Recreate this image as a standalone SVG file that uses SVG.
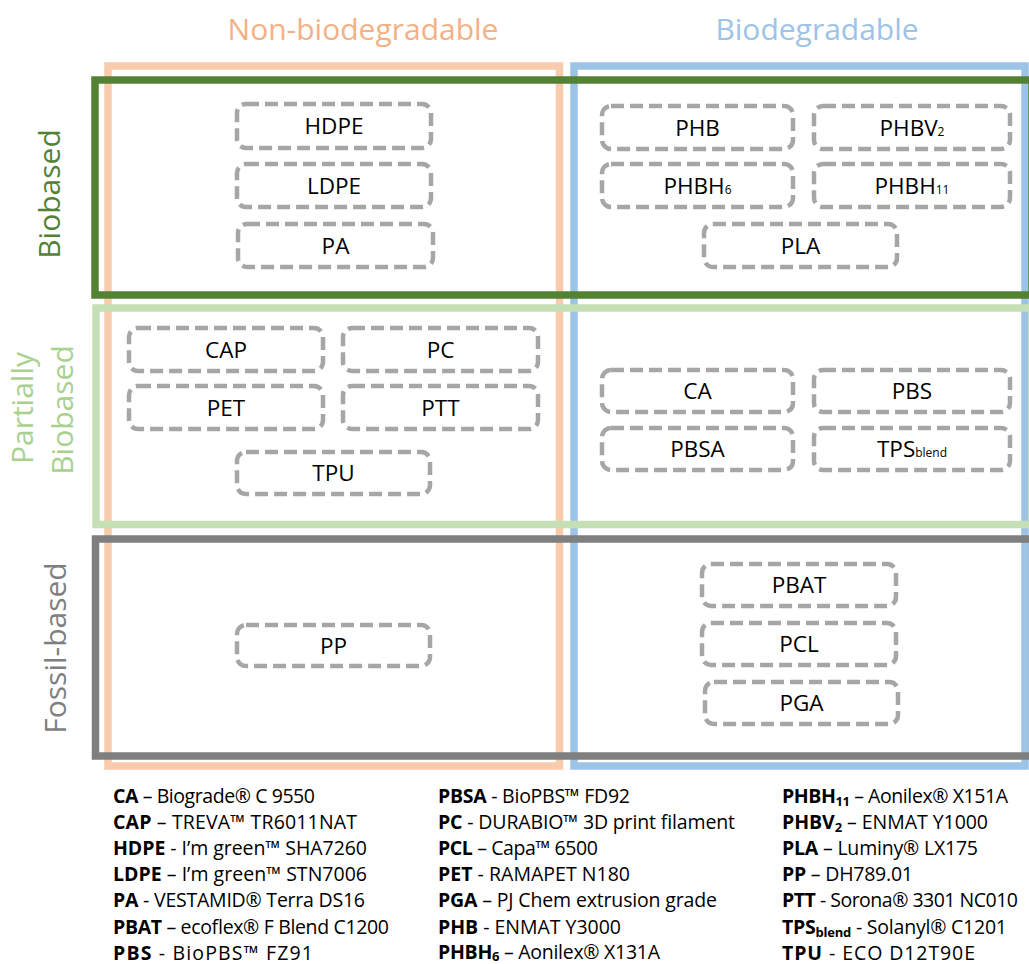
<svg xmlns="http://www.w3.org/2000/svg" width="1029" height="964" viewBox="0 0 1029 964">
<style>
.hdr{font-family:"Open Sans","Liberation Sans",sans-serif;font-size:30px;text-anchor:middle}
.side{font-family:"Open Sans","Liberation Sans",sans-serif;font-size:30px;text-anchor:middle}
.box{fill:#FFFFFF;stroke:#A6A6A6;stroke-width:4.5;stroke-dasharray:13 6}
.lbl{font-family:"Open Sans","Liberation Sans",sans-serif;font-size:22.5px;fill:#000;text-anchor:middle}
.sub{font-size:12px}
.leg{font-family:"Open Sans","Liberation Sans",sans-serif;font-size:19.5px;fill:#000}
.leg .b{font-weight:bold}
.leg .bs{font-weight:bold;font-size:13px}
.frame{fill:none;stroke-width:7.5}
</style>
<rect width="1029" height="964" fill="#FFFFFF"/>
<g id="headers">
<text class="hdr" x="363" y="40" fill="#F4B183">Non-biodegradable</text>
<text class="hdr" x="817" y="40" fill="#9DC3E6">Biodegradable</text>
</g>
<g id="side-labels">
<text class="side" transform="translate(60,194) rotate(-90)" fill="#548235">Biobased</text>
<text class="side" transform="translate(33,408) rotate(-90)" fill="#A9D18E">Partially</text>
<text class="side" transform="translate(73,410) rotate(-90)" fill="#A9D18E">Biobased</text>
<text class="side" transform="translate(66,648) rotate(-90)" fill="#7F7F7F">Fossil-based</text>
</g>
<g id="frames">
<rect id="non-biodegradable" class="frame" x="108" y="66" width="451.5" height="700" stroke="#F8CBAD"/>
<rect id="biodegradable" class="frame" x="574" y="66" width="451" height="700" stroke="#9DC3E6"/>
<rect id="partially-biobased" class="frame" x="96" y="308" width="936" height="216.5" stroke="#C5E0B4"/>
<rect id="fossil-based" class="frame" x="95.5" y="539" width="937" height="217" stroke="#7F7F7F"/>
<rect id="biobased" class="frame" x="95" y="80" width="937" height="215" stroke="#548235"/>
</g>
<g id="connectors"/>
<g id="node-HDPE"><rect class="box" x="237" y="104" width="194" height="44" rx="9"/><text class="lbl" x="334" y="134">HDPE</text></g>
<g id="node-LDPE"><rect class="box" x="237" y="164" width="194" height="43" rx="9"/><text class="lbl" x="334" y="193.5">LDPE</text></g>
<g id="node-PA"><rect class="box" x="238" y="224" width="195" height="43" rx="9"/><text class="lbl" x="335.5" y="253.5">PA</text></g>
<g id="node-PHB"><rect class="box" x="602" y="106" width="191" height="43" rx="9"/><text class="lbl" x="697.5" y="135.5">PHB</text></g>
<g id="node-PHBV2"><rect class="box" x="814" y="106" width="196" height="43" rx="9"/><text class="lbl" x="912" y="135.5">PHBV<tspan class="sub">2</tspan></text></g>
<g id="node-PHBH6"><rect class="box" x="602" y="164" width="191" height="43" rx="9"/><text class="lbl" x="697.5" y="193.5">PHBH<tspan class="sub">6</tspan></text></g>
<g id="node-PHBH11"><rect class="box" x="814" y="164" width="196" height="43" rx="9"/><text class="lbl" x="912" y="193.5">PHBH<tspan class="sub">11</tspan></text></g>
<g id="node-PLA"><rect class="box" x="704" y="224" width="193" height="43" rx="9"/><text class="lbl" x="800.5" y="253.5">PLA</text></g>
<g id="node-CAP"><rect class="box" x="129" y="328" width="194" height="43" rx="9"/><text class="lbl" x="226" y="357.5">CAP</text></g>
<g id="node-PC"><rect class="box" x="343" y="328" width="195" height="43" rx="9"/><text class="lbl" x="440.5" y="357.5">PC</text></g>
<g id="node-PET"><rect class="box" x="129" y="386" width="194" height="43" rx="9"/><text class="lbl" x="226" y="415.5">PET</text></g>
<g id="node-PTT"><rect class="box" x="343" y="386" width="195" height="43" rx="9"/><text class="lbl" x="440.5" y="415.5">PTT</text></g>
<g id="node-TPU"><rect class="box" x="237" y="452" width="193" height="42" rx="9"/><text class="lbl" x="333.5" y="481">TPU</text></g>
<g id="node-CA"><rect class="box" x="602" y="370" width="191" height="42" rx="9"/><text class="lbl" x="697.5" y="399">CA</text></g>
<g id="node-PBS"><rect class="box" x="814" y="370" width="196" height="42" rx="9"/><text class="lbl" x="912" y="399">PBS</text></g>
<g id="node-PBSA"><rect class="box" x="602" y="428" width="191" height="42" rx="9"/><text class="lbl" x="697.5" y="457">PBSA</text></g>
<g id="node-TPSblend"><rect class="box" x="814" y="428" width="196" height="42" rx="9"/><text class="lbl" x="912" y="457">TPS<tspan class="sub">blend</tspan></text></g>
<g id="node-PBAT"><rect class="box" x="702" y="564" width="194" height="42" rx="9"/><text class="lbl" x="799" y="593">PBAT</text></g>
<g id="node-PCL"><rect class="box" x="702" y="623" width="194" height="42" rx="9"/><text class="lbl" x="799" y="652">PCL</text></g>
<g id="node-PGA"><rect class="box" x="705" y="682" width="193" height="42" rx="9"/><text class="lbl" x="801.5" y="711">PGA</text></g>
<g id="node-PP"><rect class="box" x="237" y="625" width="193" height="41" rx="9"/><text class="lbl" x="333.5" y="653.5">PP</text></g>
<g id="legend" class="leg">
<text x="113" y="802.5" textLength="202"><tspan class="b">CA</tspan> – Biograde® C 9550</text>
<text x="113" y="828.7" textLength="244"><tspan class="b">CAP</tspan> – TREVA™ TR6011NAT</text>
<text x="113" y="854.9" textLength="254"><tspan class="b">HDPE</tspan> - I’m green™ SHA7260</text>
<text x="113" y="881.1" textLength="254"><tspan class="b">LDPE</tspan> – I’m green™ STN7006</text>
<text x="113" y="907.3" textLength="252"><tspan class="b">PA</tspan> - VESTAMID® Terra DS16</text>
<text x="113" y="933.5" textLength="276"><tspan class="b">PBAT</tspan> – ecoflex® F Blend C1200</text>
<text x="113" y="959.5" textLength="200"><tspan class="b">PBS</tspan> - BioPBS™ FZ91</text>
<text x="438" y="802.5" textLength="192"><tspan class="b">PBSA</tspan> - BioPBS™ FD92</text>
<text x="438" y="828.7" textLength="297"><tspan class="b">PC</tspan> - DURABIO™ 3D print filament</text>
<text x="438" y="854.9" textLength="160"><tspan class="b">PCL</tspan> – Capa™ 6500</text>
<text x="438" y="881.1" textLength="192"><tspan class="b">PET</tspan> - RAMAPET N180</text>
<text x="438" y="907.3" textLength="279"><tspan class="b">PGA</tspan> – PJ Chem extrusion grade</text>
<text x="438" y="933.5" textLength="183"><tspan class="b">PHB</tspan> - ENMAT Y3000</text>
<text x="438" y="958.5" textLength="222"><tspan class="b">PHBH</tspan><tspan class="bs" dy="2">6</tspan><tspan dy="-2"> – Aonilex® X131A</tspan></text>
<text x="782" y="802.5" textLength="226"><tspan class="b">PHBH</tspan><tspan class="bs" dy="3">11</tspan><tspan dy="-3"> – Aonilex® X151A</tspan></text>
<text x="782" y="828.7" textLength="206"><tspan class="b">PHBV</tspan><tspan class="bs" dy="3">2</tspan><tspan dy="-3"> – ENMAT Y1000</tspan></text>
<text x="782" y="854.9" textLength="196"><tspan class="b">PLA</tspan> – Luminy® LX175</text>
<text x="782" y="881.1" textLength="131"><tspan class="b">PP</tspan> – DH789.01</text>
<text x="782" y="907.3" textLength="236"><tspan class="b">PTT</tspan> - Sorona® 3301 NC010</text>
<text x="782" y="933.5" textLength="225"><tspan class="b">TPS</tspan><tspan class="bs" dy="3">blend</tspan><tspan dy="-3"> - Solanyl® C1201</tspan></text>
<text x="782" y="959.5" textLength="193"><tspan class="b">TPU</tspan> - ECO D12T90E</text>
</g>
</svg>
